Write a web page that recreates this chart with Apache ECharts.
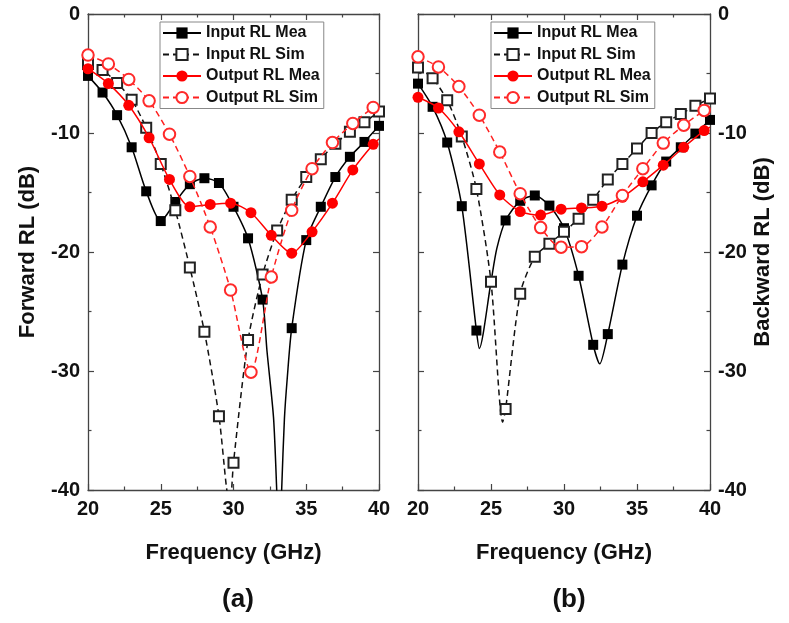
<!DOCTYPE html>
<html>
<head>
<meta charset="utf-8">
<script src="https://cdn.jsdelivr.net/npm/echarts@6/dist/echarts.min.js"></script>
<style>
html,body{margin:0;padding:0;background:#fff;}
#chart{width:789px;height:623px;}
</style>
</head>
<body>
<div id="chart"></div>
<script>
// ---------- data ----------
var seriesNames = ['Input RL Mea', 'Input RL Sim', 'Output RL Mea', 'Output RL Sim'];
var xTicks = [20, 25, 30, 35, 40];
var yTicks = [0, -10, -20, -30, -40];

// Panel (a): Forward RL
var aInMeaX = [20, 21, 22, 23, 24, 25, 26, 27, 28, 29, 30, 31, 32, 34, 35, 36, 37, 38, 39, 40];
var aInMeaY = [-5.2, -6.6, -8.5, -11.2, -14.9, -17.4, -15.8, -14.3, -13.8, -14.2, -16.2, -18.85, -24.0, -26.4, -19.0, -16.2, -13.7, -12.0, -10.75, -9.4];
var aInMeaCurveX = [32.3, 32.75, 32.97, 33.14, 33.31, 33.5, 33.7];
var aInMeaCurveY = [-28.3, -33.9, -40, -46, -40, -34, -30.5];

var aInSimX = [20, 21, 22, 23, 24, 25, 26, 27, 28, 29, 30, 31, 32, 33, 34, 35, 36, 37, 38, 39, 40];
var aInSimY = [-4.2, -4.7, -5.8, -7.2, -9.55, -12.6, -16.5, -21.3, -26.7, -33.8, -37.7, -27.4, -21.9, -18.2, -15.6, -13.7, -12.2, -10.9, -9.9, -9.1, -8.2];
var aInSimCurveX = [29.5, 29.75];
var aInSimCurveY = [-39.6, -41.5];

var aOutMeaX = [20, 21.4, 22.8, 24.2, 25.6, 27, 28.4, 29.8, 31.2, 32.6, 34, 35.4, 36.8, 38.2, 39.6];
var aOutMeaY = [-4.6, -5.85, -7.67, -10.4, -13.9, -16.2, -16.0, -15.9, -16.7, -18.6, -20.1, -18.3, -15.9, -13.1, -10.95];
var aOutMeaCurveX = [40];
var aOutMeaCurveY = [-10.5];

var aOutSimX = [20, 21.4, 22.8, 24.2, 25.6, 27, 28.4, 29.8, 31.2, 32.6, 34, 35.4, 36.8, 38.2, 39.6];
var aOutSimY = [-3.45, -4.2, -5.5, -7.3, -10.1, -13.65, -17.9, -23.2, -30.1, -22.1, -16.5, -13.0, -10.8, -9.2, -7.85];
var aOutSimCurveX = [40];
var aOutSimCurveY = [-7.6];

// Panel (b): Backward RL
var bInMeaX = [20, 21, 22, 23, 24, 25, 26, 27, 28, 29, 30, 31, 32, 33, 34, 35, 36, 37, 38, 39, 40];
var bInMeaY = [-5.85, -7.8, -10.8, -16.15, -26.6, -22.5, -17.35, -15.7, -15.25, -16.1, -18.0, -22.0, -27.8, -26.9, -21.06, -16.95, -14.4, -12.4, -11.2, -10.05, -8.9];
var bInMeaCurveX = [24.2, 25.4, 32.45];
var bInMeaCurveY = [-28.1, -19.7, -29.4];

var bInSimX = [20, 21, 22, 23, 24, 25, 26, 27, 28, 29, 30, 31, 32, 33, 34, 35, 36, 37, 38, 39, 40];
var bInSimY = [-4.5, -5.4, -7.25, -10.3, -14.7, -22.5, -33.2, -23.5, -20.4, -19.3, -18.3, -17.2, -15.6, -13.9, -12.6, -11.3, -10.0, -9.1, -8.4, -7.7, -7.1];
var bInSimCurveX = [25.8];
var bInSimCurveY = [-34.3];

var bOutMeaX = [20, 21.4, 22.8, 24.2, 25.6, 27, 28.4, 29.8, 31.2, 32.6, 34, 35.4, 36.8, 38.2, 39.6];
var bOutMeaY = [-7.0, -7.9, -9.9, -12.6, -15.2, -16.6, -16.9, -16.4, -16.3, -16.15, -15.4, -14.1, -12.7, -11.2, -9.8];
var bOutMeaCurveX = [40];
var bOutMeaCurveY = [-9.5];

var bOutSimX = [20, 21.4, 22.8, 24.2, 25.6, 27, 28.4, 29.8, 31.2, 32.6, 34, 35.4, 36.8, 38.2, 39.6];
var bOutSimY = [-3.6, -4.45, -6.1, -8.5, -11.6, -15.1, -17.95, -19.6, -19.55, -17.9, -15.25, -13.0, -10.85, -9.35, -8.1];
var bOutSimCurveX = [40];
var bOutSimCurveY = [-7.8];

// ---------- build ----------
var FONT = '"Liberation Sans", Arial, sans-serif';

function merge(mx, my, cx, cy) {
  var pts = [];
  for (var i = 0; i < mx.length; i++) pts.push({ value: [mx[i], my[i]] });
  for (var j = 0; j < cx.length; j++) pts.push({ value: [cx[j], cy[j]], symbol: 'none' });
  pts.sort(function (p, q) { return p.value[0] - q.value[0]; });
  return pts;
}

var styles = [
  { symbol: 'rect', size: 10, color: '#000', line: '#000', type: 'solid' },
  { symbol: 'emptyRect', size: 10, color: '#222', line: '#111', type: [6, 4] },
  { symbol: 'circle', size: 11, color: '#ff0000', line: '#ff0000', type: 'solid' },
  { symbol: 'emptyCircle', size: 11.5, color: '#ff2a2a', line: '#ff2020', type: [6, 4] }
];

function mkSeries(idx, axisIdx, data) {
  var s = styles[idx];
  return {
    name: seriesNames[idx],
    type: 'line',
    xAxisIndex: axisIdx,
    yAxisIndex: axisIdx,
    data: data,
    smooth: 0.25,
    clip: true,
    symbol: s.symbol,
    symbolSize: s.size,
    showAllSymbol: true,
    z: 2 + idx,
    itemStyle: { color: s.color, borderColor: s.color, borderWidth: s.symbol.indexOf('empty') === 0 ? 1.2 : 0 },
    lineStyle: { color: s.line, width: 1.5, type: s.type },
    emphasis: { disabled: true },
    animation: false
  };
}

var series = [
  mkSeries(0, 0, merge(aInMeaX, aInMeaY, aInMeaCurveX, aInMeaCurveY)),
  mkSeries(1, 0, merge(aInSimX, aInSimY, aInSimCurveX, aInSimCurveY)),
  mkSeries(2, 0, merge(aOutMeaX, aOutMeaY, aOutMeaCurveX, aOutMeaCurveY)),
  mkSeries(3, 0, merge(aOutSimX, aOutSimY, aOutSimCurveX, aOutSimCurveY)),
  mkSeries(0, 2, merge(bInMeaX, bInMeaY, bInMeaCurveX, bInMeaCurveY)),
  mkSeries(1, 2, merge(bInSimX, bInSimY, bInSimCurveX, bInSimCurveY)),
  mkSeries(2, 2, merge(bOutMeaX, bOutMeaY, bOutMeaCurveX, bOutMeaCurveY)),
  mkSeries(3, 2, merge(bOutSimX, bOutSimY, bOutSimCurveX, bOutSimCurveY))
];

var AX = '#444';
function xAx(grid, pos, labels, name) {
  return {
    type: 'value', gridIndex: grid, position: pos,
    min: xTicks[0], max: xTicks[xTicks.length - 1], interval: xTicks[1] - xTicks[0],
    axisLine: { show: true, onZero: false, lineStyle: { color: AX, width: 1.3 } },
    axisTick: { show: true, inside: true, length: 6, lineStyle: { color: AX, width: 1.2 } },
    minorTick: { show: true, splitNumber: 2, length: 3.5, lineStyle: { color: AX, width: 1.2 } },
    splitLine: { show: false },
    axisLabel: { show: labels, margin: 9, color: '#111', fontSize: 20, fontWeight: 'bold', fontFamily: FONT },
    name: name || '', nameLocation: 'middle', nameGap: 52,
    nameTextStyle: { color: '#111', fontSize: 22, fontWeight: 'bold', fontFamily: FONT }
  };
}
function yAx(grid, pos, labels, name, gap) {
  return {
    type: 'value', gridIndex: grid, position: pos,
    min: yTicks[yTicks.length - 1], max: yTicks[0], interval: yTicks[0] - yTicks[1],
    axisLine: { show: true, onZero: false, lineStyle: { color: AX, width: 1.3 } },
    axisTick: { show: true, inside: true, length: 6, lineStyle: { color: AX, width: 1.2 } },
    minorTick: { show: true, splitNumber: 2, length: 3.5, lineStyle: { color: AX, width: 1.2 } },
    splitLine: { show: false },
    axisLabel: { show: labels, margin: 8, color: '#111', fontSize: 20, fontWeight: 'bold', fontFamily: FONT },
    name: name || '', nameLocation: 'middle', nameGap: gap || 0, nameRotate: 90,
    nameTextStyle: { color: '#111', fontSize: 22, fontWeight: 'bold', fontFamily: FONT }
  };
}

function legendAt(left) {
  return {
    orient: 'vertical', left: left, top: 22,
    data: seriesNames,
    padding: [3, 4, 3, 2],
    itemWidth: 38, itemHeight: 14, itemGap: 5.5,
    borderColor: '#888', borderWidth: 1, backgroundColor: '#fff',
    textStyle: { color: '#111', fontSize: 16, fontWeight: 'bold', fontFamily: FONT },
    selectedMode: false
  };
}

var option = {
  backgroundColor: '#fff',
  animation: false,
  title: [
    { text: '(a)', left: 233, top: 582, textAlign: 'center', textStyle: { fontSize: 26, fontWeight: 'bold', color: '#111', fontFamily: FONT } },
    { text: '(b)', left: 564, top: 582, textAlign: 'center', textStyle: { fontSize: 26, fontWeight: 'bold', color: '#111', fontFamily: FONT } }
  ],
  grid: [
    { left: 88, top: 14, width: 291, height: 476 },
    { left: 418, top: 14, width: 292, height: 476 }
  ],
  legend: [legendAt(160), legendAt(491)],
  xAxis: [
    xAx(0, 'bottom', true, 'Frequency (GHz)'),
    xAx(0, 'top', false),
    xAx(1, 'bottom', true, 'Frequency (GHz)'),
    xAx(1, 'top', false)
  ],
  yAxis: [
    yAx(0, 'left', true, 'Forward RL (dB)', 49),
    yAx(0, 'right', false),
    yAx(1, 'right', true, 'Backward RL (dB)', 42),
    yAx(1, 'left', false)
  ],
  series: series
};

var chart = echarts.init(document.getElementById('chart'), null, { renderer: 'canvas' });
chart.setOption(option);
</script>
</body>
</html>
